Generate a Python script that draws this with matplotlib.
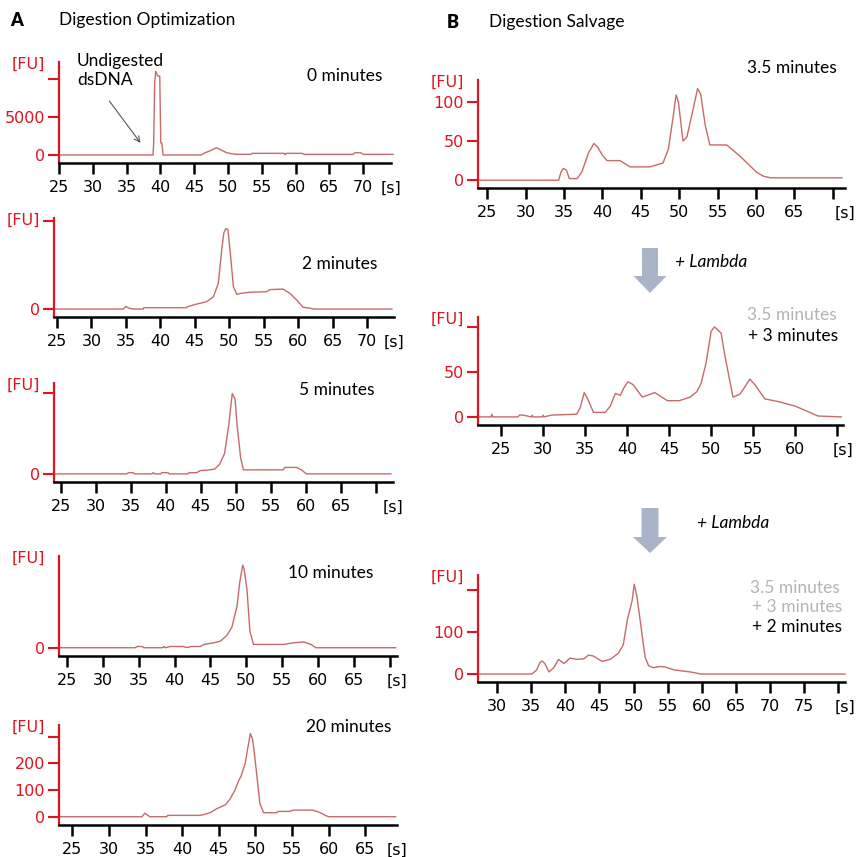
import matplotlib
matplotlib.use("Agg")
import matplotlib.pyplot as plt
from matplotlib.patches import Polygon

# ---------------- data ----------------
a1_x = [25, 38.9, 39.0, 39.15, 39.3, 39.6, 39.9, 40.05, 40.2, 40.4, 46.0, 46.6, 47.3, 48.3, 49.0, 49.8,
        50.5, 51.2, 53.4, 53.5, 58.3, 58.45, 58.6, 61.0, 61.2, 68.5, 68.8, 69.6, 70.0, 74.4]
a1_y = [0, 0, 1500, 9500, 11000, 10400, 10400, 1600, 1600, 0, 0, 300, 530, 960, 650, 300,
        175, 90, 90, 220, 220, 20, 220, 220, 90, 90, 300, 300, 90, 90]

a2_x = [24.6, 34.6, 35.0, 35.4, 36.1, 37.5, 37.6, 43.8, 43.9, 45.3, 46.7, 47.7, 48.4, 48.9, 49.2, 49.5,
        49.8, 50.1, 50.6, 51.1, 51.6, 53.0, 55.4, 55.9, 57.8, 58.8, 59.8, 60.7, 61.7, 62.2, 73.6]
a2_y = [0, 0, 3, 1, 0, 0, 1.5, 1.5, 2.6, 5.7, 8.3, 14, 29, 67, 86, 91,
        90, 67, 25, 16.6, 17.7, 19, 19.6, 22, 22.6, 17.7, 10, 2, 1, 0, 0]

a3_x = [24, 34.4, 34.7, 35.3, 35.5, 38.0, 38.2, 38.4, 39.3, 39.4, 40.3, 40.5, 43.2, 43.3, 44.4, 44.9,
        46.3, 47.0, 47.7, 48.4, 49.0, 49.5, 49.9, 50.2, 50.7, 51.1, 56.8, 57.0, 58.7, 59.4, 60.1, 72.2]
a3_y = [0, 0, 1.5, 1.5, 0, 0, 1.5, 0, 0, 1.5, 1.5, 0, 0, 1.5, 1.5, 4,
        5, 6, 12, 25, 60, 99, 92, 60, 20, 5, 5, 8, 8, 5, 0, 0]

a4_x = [23.9, 34.5, 34.8, 35.5, 35.7, 38.3, 38.5, 38.7, 39.4, 41.3, 41.5, 42.0, 42.2, 43.6, 44.1, 45.5,
        46.4, 47.3, 48.0, 48.7, 49.1, 49.5, 49.7, 50.1, 50.5, 51.0, 55.2, 56.6, 58.0, 59.0, 59.7, 70.8]
a4_y = [0, 0, 1.5, 1.5, 0, 0, 1.5, 0, 1.5, 1.5, 0.5, 0.5, 1.5, 1.5, 4, 6,
        8, 15, 25, 50, 80, 100, 95, 70, 20, 4, 4, 6, 7, 4, 0, 0]

a5_x = [23.2, 34.5, 34.9, 35.6, 37.9, 38.0, 42.4, 42.9, 43.8, 44.7, 45.9, 46.5, 47.2, 47.7, 48.0, 48.6,
        48.9, 49.3, 49.6, 49.8, 50.2, 50.6, 51.1, 52.9, 53.1, 54.7, 55.2, 57.7, 58.4, 59.1, 59.5, 60.0, 69.1]
a5_y = [0, 0, 13, 0, 0, 5, 5, 8, 15, 30, 45, 65, 100, 135, 150, 200,
        250, 312, 290, 250, 150, 50, 15, 15, 20, 20, 25, 25, 20, 12, 5, 0, 0]

b1_x = [23.8, 34.3, 34.6, 34.9, 35.3, 35.7, 36.7, 37.3, 38.2, 38.9, 39.4, 40.0, 40.6, 42.3, 43.6, 46.2,
        47.9, 48.6, 49.2, 49.6, 49.9, 50.5, 51.0, 51.8, 52.4, 52.8, 53.4, 54.0, 56.2, 58.0, 60.1, 61.0, 61.9, 71.2]
b1_y = [0, 0, 10, 15, 13, 2, 2, 10, 35, 47, 42, 32, 25, 25, 17, 17,
        22, 40, 80, 109, 100, 50, 55, 90, 117, 110, 70, 45, 45, 30, 10, 5, 3, 3]

b2_x = [22.25, 23.8, 23.9, 24.0, 27.0, 27.2, 27.6, 28.6, 28.7, 28.8, 29.9, 30.0, 30.1, 31.0, 34.0, 34.4,
        34.9, 35.3, 36.0, 37.4, 38.0, 38.6, 39.2, 39.6, 40.1, 40.7, 41.8, 43.3, 44.8, 46.2, 47.5, 48.3,
        48.8, 49.4, 50.0, 50.4, 51.2, 51.6, 52.6, 53.4, 54.0, 54.6, 55.2, 56.4, 58.0, 60.0, 61.5, 62.7, 65.5]
b2_y = [0, 0, 3, 0, 0, 2, 2, 0, 2, 0, 0, 2, 0, 2, 3, 10,
        27, 20, 5, 5, 12, 26, 24, 32, 39, 36, 22, 27, 18, 18, 22, 28,
        37, 60, 95, 100, 93, 70, 22, 25, 33, 42, 36, 20, 17, 12, 6, 1, 0]

b3_x = [27.2, 35.1, 35.8, 36.3, 36.6, 37.0, 37.6, 38.3, 39.0, 39.4, 39.8, 40.7, 41.7, 42.7, 43.4, 44.1,
        45.4, 46.6, 47.8, 48.5, 49.1, 49.8, 50.1, 50.5, 51.2, 51.7, 52.2, 52.9, 53.9, 54.6, 55.9, 57.3,
        58.3, 59.3, 59.8, 81.0]
b3_y = [0, 0, 10, 28, 31, 25, 5, 15, 35, 30, 25, 38, 35, 36, 45, 43,
        30, 35, 50, 70, 130, 175, 214, 185, 100, 40, 20, 15, 18, 17, 10, 7,
        5, 2, 0, 0]

# tick labels
a_xticks_70 = [25, 30, 35, 40, 45, 50, 55, 60, 65, 70]
a_xticks_65 = [25, 30, 35, 40, 45, 50, 55, 60, 65]
b1_xticks = [25, 30, 35, 40, 45, 50, 55, 60, 65, 70]
b2_xticks = [25, 30, 35, 40, 45, 50, 55, 60, 65]
b3_xticks = [30, 35, 40, 45, 50, 55, 60, 65, 70, 75, 80]

# ---------------- styling ----------------
W = 857.0
LINE = '#c86a6a'
RED = '#e0141e'
TICKFONT = 'DejaVu Sans'
TXTFONT = ['Lato', 'DejaVu Sans']

fig = plt.figure(figsize=(8.57, 8.57), dpi=100)


def px_axes(l, r, t, b):
    return fig.add_axes([l / W, 1 - b / W, (r - l) / W, (b - t) / W])


def panel(rect, xs, ys, xlim, ylim, xticks, xlabel_blank, yticks, ylabels):
    ax = px_axes(*rect)
    ax.plot(xs, ys, color=LINE, lw=1.0, clip_on=False)
    ax.set_xlim(*xlim)
    ax.set_ylim(*ylim)
    for s in ('top', 'right'):
        ax.spines[s].set_visible(False)
    ax.spines['left'].set_color(RED)
    ax.spines['left'].set_linewidth(1.6)
    ax.spines['bottom'].set_color('black')
    ax.spines['bottom'].set_linewidth(1.8)
    ax.set_xticks(xticks)
    ax.set_xticklabels(['' if v in xlabel_blank else str(v) for v in xticks],
                       fontsize=11.5, family=TICKFONT)
    ax.set_yticks(yticks)
    ax.set_yticklabels(ylabels, fontsize=11.5, family=TICKFONT, color=RED)
    ax.tick_params(axis='x', direction='out', length=8, width=1.8, pad=4, color='black')
    ax.tick_params(axis='y', direction='out', length=8, width=1.5, pad=2, color=RED)
    ax.annotate('[FU]', xy=(0, 1), xycoords='axes fraction', xytext=(-10, -2),
                textcoords='offset points', ha='right', va='center',
                fontsize=11.5, family=TICKFONT, color=RED)
    ax.annotate('[s]', xy=(1, 0), xycoords='axes fraction', xytext=(0, -18),
                textcoords='offset points', ha='center', va='center',
                fontsize=11.5, family=TICKFONT, color='black')
    ax.patch.set_alpha(0)
    return ax


ax1 = panel((59, 391, 62, 163), a1_x, a1_y, (25, 74.1), (-1050, 12240),
            a_xticks_70, [], [0, 5000, 10000], ['0', '5000', ''])
panel((54, 394, 218, 317), a2_x, a2_y, (24.56, 73.9), (-9, 103),
      a_xticks_70, [], [0, 100], ['0', ''])
panel((54, 393, 383, 482), a3_x, a3_y, (24.0, 72.5), (-10, 112),
      a_xticks_70, [70], [0, 100], ['0', ''])
panel((59, 397, 556, 656), a4_x, a4_y, (23.9, 71.0), (-10, 111),
      a_xticks_70, [70], [0], ['0'])
panel((59, 397, 725, 825), a5_x, a5_y, (23.2, 69.3), (-31, 344),
      a_xticks_65, [], [0, 100, 200, 300], ['0', '100', '200', ''])
panel((478, 845, 80, 188), b1_x, b1_y, (23.8, 71.6), (-10, 128),
      b1_xticks, [70], [0, 50, 100], ['0', '50', '100'])
panel((478, 843, 317, 425), b2_x, b2_y, (22.25, 65.7), (-9, 111),
      b2_xticks, [65], [0, 50, 100], ['0', '50', ''])
panel((478, 845, 575, 682), b3_x, b3_y, (27.2, 81.0), (-19, 236),
      b3_xticks, [80], [0, 100, 200], ['0', '100', ''])


def ftext(x, y, s, **kw):
    kw.setdefault('family', TXTFONT)
    kw.setdefault('fontsize', 12.5)
    kw.setdefault('va', 'center')
    kw.setdefault('ha', 'left')
    fig.text(x / W, 1 - y / W, s, **kw)


ftext(17, 21, 'A', weight='heavy', ha='center', fontsize=13)
ftext(59, 20, 'Digestion Optimization')
ftext(453, 22, 'B', weight='heavy', ha='center', fontsize=13)
ftext(489, 22, 'Digestion Salvage')

ftext(307, 76, '0 minutes')
ftext(77, 61, 'Undigested')
ftext(77, 80, 'dsDNA')
ftext(302, 264, '2 minutes')
ftext(299, 390, '5 minutes')
ftext(288, 573, '10 minutes')
ftext(306, 727, '20 minutes')
ftext(747, 68, '3.5 minutes')

ftext(675, 262, '+ Lambda', style='italic')
ftext(747, 315, '3.5 minutes', color='#b4b4b4')
ftext(748, 336, '+ 3 minutes')
ftext(697, 523, '+ Lambda', style='italic')
ftext(750, 588, '3.5 minutes', color='#b4b4b4')
ftext(752, 607, '+ 3 minutes', color='#b4b4b4')
ftext(752, 627, '+ 2 minutes')

# annotation arrow (Undigested dsDNA)
ax1.annotate('', xy=(37.3, 1300), xytext=(32.2, 7400), xycoords='data',
             arrowprops=dict(arrowstyle='->', color='#555555', lw=0.8))


# block arrows
def block_arrow(cx, top, shaft_w, head_top, head_w, tip):
    pts = [(cx - shaft_w / 2, top), (cx + shaft_w / 2, top), (cx + shaft_w / 2, head_top),
           (cx + head_w / 2, head_top), (cx, tip), (cx - head_w / 2, head_top),
           (cx - shaft_w / 2, head_top)]
    pts = [(x / W, 1 - y / W) for x, y in pts]
    fig.patches.append(Polygon(pts, closed=True, transform=fig.transFigure,
                               facecolor='#a9b4c9', edgecolor='none'))


block_arrow(650, 248, 16, 276, 33, 293)
block_arrow(650, 508, 17, 537, 34, 553)

fig.savefig('out.png', dpi=100)
